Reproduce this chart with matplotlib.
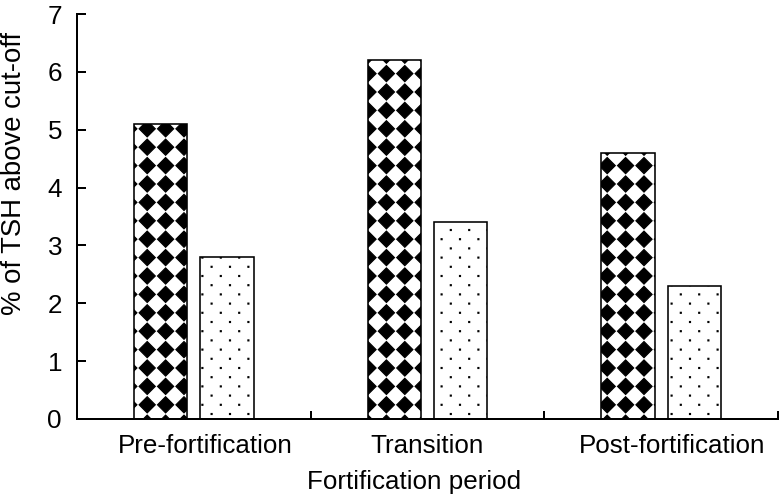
import numpy as np
import matplotlib
matplotlib.use("Agg")
import matplotlib.pyplot as plt
import matplotlib.hatch as mhatch
import matplotlib.transforms as mtransforms
from matplotlib.path import Path


PERIODS = ["Pre-fortification", "Transition", "Post-fortification"]
SERIES_A = [5.1, 6.2, 4.6]   # diamond-pattern bars
SERIES_B = [2.8, 3.4, 2.3]   # dotted bars
Y_TICKS = [0, 1, 2, 3, 4, 5, 6, 7]

DPI = 92


# custom fills: black diamond checker ('*') and sparse staggered dots ('.')
class DiamondGrid(mhatch.HatchPatternBase):
  def __init__(self, hatch, density):
    self.n = hatch.count("*") * 5
    self.num_vertices = (self.n + 1) ** 2 * 5 if self.n else 0

  def set_vertices_and_codes(self, vertices, codes):
    h = 0.44 / self.n
    shape = np.array([[0, -h], [h, 0], [0, h], [-h, 0], [0, -h]])
    shape_codes = [Path.MOVETO, Path.LINETO, Path.LINETO, Path.LINETO, Path.CLOSEPOLY]
    parts, cparts = [], []
    for r in range(self.n + 1):
      for c in range(self.n + 1):
        parts.append(shape + [c / self.n, r / self.n])
        cparts.append(shape_codes)
    np.concatenate(parts, out=vertices)
    np.concatenate(cparts, out=codes)


class DotGrid(mhatch.HatchPatternBase):
  def __init__(self, hatch, density):
    self.n = hatch.count(".") * 5
    if self.n:
      shapes = (self.n + 1) * (self.n + 1) + self.n * self.n
      self.num_vertices = shapes * 5
    else:
      self.num_vertices = 0

  def set_vertices_and_codes(self, vertices, codes):
    s = 0.5 / DPI
    shape = np.array([[-s, -s], [s, -s], [s, s], [-s, s], [-s, -s]])
    shape_codes = [Path.MOVETO, Path.LINETO, Path.LINETO, Path.LINETO, Path.CLOSEPOLY]
    parts, cparts = [], []
    for r in range(2 * self.n + 1):
      y = r / (2 * self.n)
      if r % 2 == 0:
        xs = [c / self.n for c in range(self.n + 1)]
      else:
        xs = [(c + 0.5) / self.n for c in range(self.n)]
      for x in xs:
        parts.append(shape + [x, y])
        cparts.append(shape_codes)
    np.concatenate(parts, out=vertices)
    np.concatenate(cparts, out=codes)


mhatch._hatch_types = [t for t in mhatch._hatch_types
             if t not in (mhatch.Stars, mhatch.SmallFilledCircles)]
mhatch._hatch_types += [DiamondGrid, DotGrid]


def px(p):
  return p * 72 / DPI


plt.rcParams["font.family"] = ["Liberation Sans", "DejaVu Sans"]
plt.rcParams["hatch.linewidth"] = 0.9
plt.rcParams["hatch.color"] = "black"

figure = plt.figure(figsize=(780 / DPI, 500 / DPI), dpi=DPI)
axes = figure.add_axes([77 / 780, 1 - 419 / 500, 701 / 780, 405 / 500])

x = np.arange(len(PERIODS))
width = 0.227
offset = 0.142
axes.bar(x - offset, SERIES_A, width, color="white", edgecolor="black",
     linewidth=px(1.6), hatch="*")
axes.bar(x + offset, SERIES_B, width, color="white", edgecolor="black",
     linewidth=px(1.6), hatch=".")

axes.set_xlim(-0.5, 2.5)
axes.set_ylim(0, 7)
axes.set_yticks(Y_TICKS)
axes.set_xticks(x)
axes.set_xticklabels(PERIODS)
axes.set_xticks(np.arange(-0.5, 3.0, 1.0), minor=True)

for side in ("top", "right"):
  axes.spines[side].set_visible(False)
for side in ("left", "bottom"):
  axes.spines[side].set_linewidth(px(2))

fs = px(26)
axes.tick_params(axis="y", direction="in", length=px(9), width=px(2),
         pad=px(15), labelsize=fs)
axes.tick_params(axis="x", which="major", length=0, pad=px(15), labelsize=fs)
axes.tick_params(axis="x", which="minor", direction="in", length=px(8), width=px(2))

# outer labels sit a little right of their category centre in the original
shift = mtransforms.ScaledTranslation(11 / DPI, 0, figure.dpi_scale_trans)
for label in (axes.get_xticklabels()[0], axes.get_xticklabels()[2]):
  label.set_transform(label.get_transform() + shift)

axes.set_ylabel("% of TSH above cut-off", fontsize=px(27.5))
axes.yaxis.set_label_coords(-0.072, 0.607)
axes.set_xlabel("Fortification period", fontsize=fs)
axes.xaxis.set_label_coords(0.481, -0.125)

figure.savefig("out.png", dpi=DPI)
plt.close(figure)
